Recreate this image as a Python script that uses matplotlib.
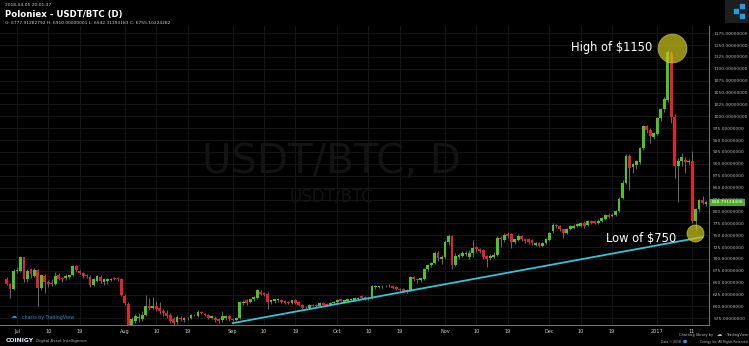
import matplotlib
matplotlib.use('Agg')
import matplotlib.pyplot as plt
import matplotlib.dates as mdates
import matplotlib.transforms as mtransforms
import numpy as np
import pandas as pd

# daily candles, 2016-06-28 .. 2017-01-15
opens = [658, 648, 637,
         # Jul
         674, 675, 703, 658, 678, 665, 676, 639, 665, 652, 649, 647, 666, 660, 660, 663,
         667, 685, 675, 671, 666, 663, 646, 654, 663, 651, 653, 655, 660, 660, 657,
         # Aug
         622, 605, 530, 569, 575, 573, 583, 601, 597, 600, 597, 590, 587, 583, 573, 568,
         576, 571, 575, 575, 582, 580, 589, 585, 582, 575, 576, 573, 571, 576, 580,
         # Sep
         573, 572, 576, 608, 613, 610, 615, 618, 631, 628, 627, 610, 611, 613, 613, 611,
         610, 608, 614, 610, 604, 597, 597, 603, 604, 601, 608, 606, 604, 608,
         # Oct
         610, 615, 610, 611, 613, 613, 615, 622, 620, 616, 618, 640, 641, 642, 642, 644,
         643, 641, 637, 636, 634, 634, 662, 658, 655, 658, 678, 688, 692, 713, 700,
         # Nov
         705, 735, 748, 688, 705, 707, 711, 705, 713, 725, 720, 718, 706, 702, 705, 709,
         744, 739, 753, 753, 735, 740, 748, 742, 741, 739, 730, 734, 728, 734,
         # Dec
         740, 758, 772, 770, 762, 754, 762, 766, 769, 770, 776, 772, 779, 779, 776, 779,
         784, 793, 790, 793, 800, 828, 860, 917, 893, 898, 903, 933, 979, 972, 957,
         # Jan
         963, 996, 1015, 1035, 1133, 999, 895, 905, 909, 903, 905, 779, 804, 825, 816]

highs = [662, 650, 678,
         682, 705, 704, 678, 680, 680, 679, 668, 668, 655, 657, 672, 670, 662, 668, 667,
         688, 688, 677, 673, 668, 666, 660, 667, 666, 659, 660, 660, 662, 662, 659,
         626, 610, 578, 584, 586, 590, 625, 618, 620, 612, 610, 595, 592, 586, 578, 581,
         580, 578, 578, 585, 584, 592, 591, 587, 584, 582, 579, 575, 590, 582, 582,
         576, 578, 612, 614, 615, 616, 621, 636, 634, 630, 630, 614, 616, 617, 615, 613,
         611, 614, 616, 612, 606, 600, 605, 605, 606, 610, 610, 607, 610, 612,
         615, 616, 614, 616, 617, 620, 620, 624, 621, 620, 645, 645, 644, 646, 646, 647,
         645, 643, 639, 638, 636, 665, 665, 660, 660, 680, 690, 693, 716, 716, 708,
         740, 752, 750, 712, 712, 716, 716, 718, 740, 728, 722, 720, 708, 710, 714, 748,
         748, 754, 756, 755, 742, 752, 750, 744, 743, 741, 735, 736, 735, 743,
         757, 776, 774, 772, 764, 766, 772, 774, 775, 778, 779, 782, 782, 781, 783, 789,
         795, 796, 796, 802, 830, 865, 920, 920, 902, 908, 936, 982, 982, 975, 968,
         999, 1018, 1040, 1140, 1138, 1005, 912, 922, 915, 910, 926, 808, 826, 833, 822]

lows = [645, 618, 635,
        670, 673, 652, 652, 660, 662, 600, 635, 628, 640, 643, 645, 655, 652, 656, 658,
        665, 672, 668, 660, 660, 640, 644, 652, 650, 645, 648, 653, 655, 654, 622,
        604, 480, 510, 565, 568, 570, 580, 592, 594, 590, 585, 580, 576, 565, 560, 564,
        570, 568, 572, 574, 579, 578, 584, 579, 574, 573, 567, 565, 568, 572, 570,
        569, 570, 574, 604, 604, 607, 612, 616, 624, 623, 594, 606, 607, 610, 608, 605,
        605, 606, 606, 602, 594, 593, 595, 600, 599, 599, 603, 601, 602, 606,
        608, 610, 608, 609, 611, 611, 613, 616, 613, 613, 616, 636, 638, 639, 640, 640,
        637, 635, 630, 630, 629, 632, 654, 650, 652, 656, 675, 684, 690, 695, 690,
        700, 730, 678, 685, 700, 703, 706, 700, 705, 715, 712, 700, 682, 698, 702, 706,
        725, 736, 745, 723, 732, 738, 738, 733, 732, 730, 727, 726, 725, 731,
        738, 755, 765, 758, 745, 752, 760, 764, 767, 768, 766, 770, 774, 773, 774, 777,
        782, 786, 788, 790, 798, 826, 858, 846, 880, 890, 900, 930, 965, 944, 952,
        960, 990, 1010, 1030, 985, 870, 820, 895, 880, 898, 775, 760, 798, 815, 812]

closes = [648, 637, 674,
          676, 703, 657, 674, 668, 677, 639, 666, 651, 648, 647, 664, 657, 657, 664, 666,
          685, 676, 671, 664, 664, 646, 657, 664, 653, 657, 657, 658, 658, 657, 625,
          608, 530, 573, 580, 578, 583, 601, 597, 600, 594, 590, 587, 580, 569, 566, 578,
          573, 575, 576, 582, 581, 589, 586, 581, 576, 580, 571, 569, 580, 580, 573,
          572, 575, 610, 610, 608, 615, 620, 634, 627, 625, 610, 613, 615, 615, 610, 608,
          608, 613, 608, 604, 597, 596, 603, 601, 601, 608, 604, 603, 608, 610,
          613, 611, 613, 615, 615, 618, 618, 618, 616, 618, 643, 643, 643, 644, 644, 642,
          639, 637, 634, 632, 632, 662, 657, 655, 660, 678, 688, 692, 713, 702, 705,
          735, 748, 688, 707, 709, 713, 713, 713, 723, 720, 716, 704, 700, 707, 709, 744,
          741, 751, 749, 735, 741, 748, 741, 737, 735, 734, 733, 728, 733, 742,
          755, 772, 769, 763, 754, 763, 769, 770, 773, 776, 769, 779, 776, 776, 779, 786,
          793, 788, 793, 800, 826, 860, 917, 891, 900, 905, 933, 979, 972, 958, 965,
          996, 1015, 1036, 1136, 999, 895, 905, 915, 903, 905, 779, 804, 823, 818, 818.79]

dates = pd.date_range('2016-06-28', periods=len(closes), freq='D')

tick_dates = ['2016-07-01', '2016-07-10', '2016-07-19', '2016-08-01', '2016-08-10', '2016-08-19',
              '2016-09-01', '2016-09-10', '2016-09-19', '2016-10-01', '2016-10-10', '2016-10-19',
              '2016-11-01', '2016-11-10', '2016-11-19', '2016-12-01', '2016-12-10', '2016-12-19',
              '2017-01-01', '2017-01-11']
tick_labels = ['Jul', '10', '19', 'Aug', '10', '19', 'Sep', '10', '19', 'Oct', '10', '19',
               'Nov', '10', '19', 'Dec', '10', '19', '2017', '11']
price_ticks = list(range(575, 1176, 25))

# support line and the two callouts
trend_dates = ['2016-09-01', '2017-01-14']
trend_prices = [565, 746]
high_date, high_price = '2017-01-05 05:00', 1143
low_date, low_price = '2017-01-11 17:00', 753.6
last_price = 818.79124406

GREEN = '#4cc51f'
RED = '#e4222b'

fig = plt.figure(figsize=(7.49, 3.46), dpi=100, facecolor='black')
ax = fig.add_axes([0, 21 / 346, 709 / 749, 299 / 346])
ax.set_facecolor('black')

x = mdates.date2num(dates)
o = np.array(opens, dtype=float)
c = np.array(closes, dtype=float)
h = np.array(highs, dtype=float)
l = np.array(lows, dtype=float)
up = c >= o
cols = [GREEN if u else RED for u in up]

ax.vlines(x, l, h, color='#7a7a7a', lw=0.6, zorder=2)
body = np.maximum(np.abs(c - o), 1.5)
ax.bar(x, body, width=0.8, bottom=np.minimum(o, c), color=cols, linewidth=0, zorder=3)

ax.plot(mdates.date2num(pd.to_datetime(trend_dates)), trend_prices, color='#35c3d6', lw=1.3, zorder=4)

# callouts
hx = mdates.date2num(pd.Timestamp(high_date))
lx = mdates.date2num(pd.Timestamp(low_date))
ax.scatter([hx], [high_price], s=430, facecolor='#c9c31c', edgecolor='#d6d030', lw=0.6, alpha=0.72, zorder=5)
ax.scatter([lx], [low_price], s=150, facecolor='#c9c31c', edgecolor='#d6d030', lw=0.6, alpha=0.72, zorder=5)
ax.text(mdates.date2num(pd.Timestamp('2016-12-30 12:00')), 1144, 'High of $1150', color='white',
        fontsize=8.3, ha='right', va='center', zorder=6)
ax.text(mdates.date2num(pd.Timestamp('2017-01-06 10:00')), 744, 'Low of $750', color='white',
        fontsize=8.3, ha='right', va='center', zorder=6)

# watermark
ax.text(0.468, 0.545, 'USDT/BTC, D', transform=ax.transAxes, color='#131313', fontsize=29,
        ha='center', va='center', zorder=1)
ax.text(0.467, 0.431, 'USDT/BTC', transform=ax.transAxes, color='#131313', fontsize=12,
        ha='center', va='center', zorder=1)

# axes styling
t0 = mdates.date2num(pd.Timestamp('2016-07-01'))
ax.set_xlim(t0 - 4.885, t0 + 198.85)
ax.set_ylim(561, 1190)
ax.set_xticks(mdates.date2num(pd.to_datetime(tick_dates)))
ax.set_xticklabels(tick_labels)
ax.set_yticks(price_ticks)
ax.set_yticklabels(['%.8f' % p for p in price_ticks])
ax.yaxis.tick_right()
ax.tick_params(axis='y', labelsize=3.2, colors='#b8b8b8', length=0, pad=3)
ax.tick_params(axis='x', labelsize=3.6, colors='#cfcfcf', length=0, pad=3)
ax.grid(color='#161616', lw=0.7, zorder=0)
for s in ['left', 'top']:
    ax.spines[s].set_visible(False)
for s in ['right', 'bottom']:
    ax.spines[s].set_color('#6f6f6f')
    ax.spines[s].set_linewidth(0.8)

# last price tag on the right axis
tr = mtransforms.blended_transform_factory(ax.transAxes, ax.transData)
ax.text(1.004, last_price, '%.8f' % last_price, transform=tr, fontsize=3.2, color='white',
        ha='left', va='center', clip_on=False, zorder=7,
        bbox=dict(boxstyle='square,pad=0.35', facecolor='#4caf1e', edgecolor='none'))

# overlay texts
ax.text(14 / 709, (325 - 317) / 299, '\u2601', transform=ax.transAxes, color='#2d8ad0', fontsize=4.5,
        ha='center', va='center')
ax.text(22 / 709, (325 - 317) / 299, 'charts by TradingView', transform=ax.transAxes, color='#2d8ad0',
        fontsize=3.4, ha='left', va='center')

# header
W, H = 749, 346
fig.text(5 / W, 1 - 5 / H, '2018-04-05 20:01:37', color='#cfcfcf', fontsize=3.2, va='center')
fig.text(5 / W, 1 - 14 / H, 'Poloniex - USDT/BTC (D)', color='white', fontsize=6.2,
         fontweight='bold', va='center')
fig.text(5 / W, 1 - 23 / H, 'O: 6777.91282792 H: 6910.00000001 L: 6542.31393183 C: 6755.10224282',
         color='#cfcfcf', fontsize=3.2, va='center')

# footer
fig.text(6 / W, 1 - 341 / H, 'COINIGY', color='#d8ecff', fontsize=4.4, fontweight='bold', va='center')
fig.text(36 / W, 1 - 341 / H, 'Digital Asset Intelligence', color='#a8a8a8', fontsize=3.0, va='center')
fig.text(748 / W, 1 - 335 / H, 'TradingView', color='#bdbdbd', fontsize=2.6, va='center', ha='right')
fig.text(719 / W, 1 - 335 / H, '\u2601', color='#bdbdbd', fontsize=3.8, va='center', ha='center')
fig.text(713 / W, 1 - 335 / H, 'Charting library by', color='#bdbdbd', fontsize=2.6, va='center', ha='right')
fig.text(748 / W, 1 - 342 / H, 'Coinigy Inc. All Rights Reserved.', color='#bdbdbd', fontsize=2.2,
         va='center', ha='right')
fig.text(685 / W, 1 - 342 / H, '\u25a0', color='#1e9be9', fontsize=3.2, va='center', ha='center')
fig.text(681 / W, 1 - 342 / H, 'Data \u00a9 2018', color='#bdbdbd', fontsize=2.2, va='center', ha='right')

# logo box top right
lg = fig.add_axes([725 / W, 1 - 23 / H, 24 / W, 23 / H])
lg.set_facecolor('#1e1e1e')
lg.set_xlim(0, 24)
lg.set_ylim(23, 0)
lg.scatter([11, 17, 17], [11, 6, 16], marker='s', s=9, color='#1e9be9')
lg.set_xticks([])
lg.set_yticks([])
for s in lg.spines.values():
    s.set_visible(False)

fig.savefig('out.png', dpi=100, facecolor='black')
